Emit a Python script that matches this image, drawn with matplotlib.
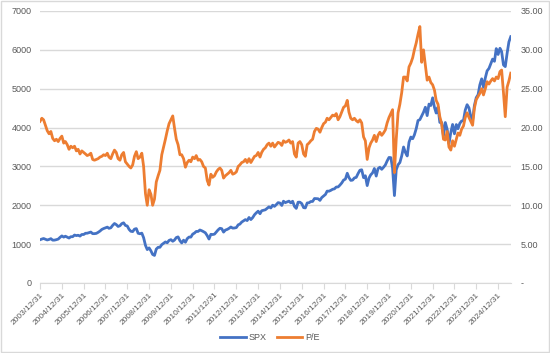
import pandas as pd
import matplotlib.pyplot as plt
import matplotlib.dates as mdates
from matplotlib.patches import Rectangle

plt.rcParams['font.family'] = ['Liberation Sans', 'DejaVu Sans']

# month-end dates, Dec 2003 .. Jul 2025
dates = pd.date_range('2003-12-31', '2025-07-31', freq='ME')

# S&P 500 month-end levels
spx = [
    1112,
    1131, 1145, 1126, 1107, 1121, 1141, 1102, 1104, 1115, 1130, 1174, 1212,
    1181, 1204, 1181, 1157, 1192, 1191, 1234, 1220, 1229, 1207, 1249, 1248,
    1280, 1281, 1295, 1311, 1270, 1270, 1277, 1304, 1336, 1378, 1401, 1418,
    1438, 1407, 1421, 1482, 1531, 1503, 1455, 1474, 1527, 1549, 1481, 1468,
    1379, 1331, 1323, 1386, 1400, 1280, 1267, 1283, 1166, 969, 860, 903,
    826, 735, 710, 873, 919, 919, 987, 1021, 1057, 1036, 1096, 1115,
    1074, 1104, 1169, 1187, 1089, 1031, 1102, 1049, 1141, 1183, 1181, 1258,
    1286, 1327, 1326, 1364, 1345, 1321, 1292, 1219, 1131, 1253, 1247, 1258,
    1312, 1366, 1408, 1398, 1310, 1362, 1379, 1407, 1441, 1412, 1416, 1426,
    1498, 1515, 1569, 1598, 1631, 1606, 1686, 1633, 1682, 1757, 1806, 1848,
    1783, 1859, 1872, 1884, 1924, 1960, 1931, 2003, 1972, 2018, 2068, 2059,
    1995, 2105, 2068, 2086, 2107, 2063, 2104, 1972, 1920, 2079, 2080, 2044,
    1940, 1932, 2060, 2065, 2097, 2099, 2174, 2171, 2168, 2126, 2199, 2239,
    2279, 2364, 2363, 2384, 2412, 2423, 2470, 2472, 2519, 2575, 2648, 2674,
    2824, 2714, 2641, 2648, 2705, 2718, 2816, 2902, 2914, 2712, 2760, 2507,
    2704, 2784, 2834, 2946, 2752, 2942, 2980, 2926, 2977, 3038, 3141, 3231,
    3226, 2954, 2250, 2912, 3044, 3100, 3271, 3500, 3363, 3270, 3622, 3756,
    3714, 3811, 3973, 4181, 4204, 4298, 4395, 4523, 4308, 4605, 4567, 4766,
    4516, 4374, 4530, 4132, 4132, 3785, 4130, 3955, 3586, 3872, 4080, 3840,
    4077, 3970, 4109, 4169, 4180, 4450, 4589, 4508, 4288, 4194, 4568, 4770,
    4846, 5096, 5254, 5036, 5278, 5460, 5522, 5648, 5762, 5705, 6032, 5882,
    6041, 5955, 5612, 5569, 5912, 6205, 6339,
]

# P/E ratio (right axis)
pe = [
    20.8,
    21.2, 21.0, 20.3, 19.6, 19.2, 19.5, 18.6, 18.3, 18.5, 18.2, 18.6, 18.9,
    18.0, 18.2, 17.8, 17.2, 17.6, 17.4, 17.6, 17.0, 17.2, 16.6, 17.0, 16.8,
    16.6, 16.4, 16.5, 16.7, 15.9, 15.8, 15.9, 16.0, 16.2, 16.3, 16.5, 16.4,
    16.7, 16.2, 16.0, 16.6, 17.1, 16.8, 16.0, 15.8, 16.5, 16.8, 15.6, 15.3,
    15.0, 14.8, 15.2, 16.3, 16.9, 16.0, 16.2, 16.7, 15.0, 11.5, 10.0, 12.0,
    11.4, 10.0, 10.8, 13.0, 13.8, 14.5, 16.5, 17.5, 18.5, 19.6, 20.5, 21.0,
    21.5, 20.0, 18.5, 17.8, 16.5, 16.5, 16.0, 14.9, 15.5, 15.8, 15.6, 16.2,
    16.0, 16.4, 15.8, 15.9, 15.6, 15.0, 14.8, 13.2, 12.6, 14.0, 13.6, 13.8,
    14.3, 14.6, 14.8, 14.5, 13.5, 13.8, 14.0, 14.2, 14.5, 14.0, 14.1, 14.3,
    15.0, 15.2, 15.5, 15.6, 15.9, 15.5, 16.0, 15.5, 15.9, 16.3, 16.4, 16.8,
    16.2, 16.8, 17.2, 17.4, 17.8, 18.0, 17.6, 18.0, 17.5, 17.8, 18.1, 18.0,
    17.7, 18.3, 18.1, 18.2, 18.4, 18.0, 18.2, 16.6, 16.2, 18.0, 18.2, 17.8,
    16.6, 16.3, 17.8, 18.0, 18.3, 18.5, 19.5, 19.9, 19.8, 19.4, 20.0, 20.5,
    20.7, 21.2, 21.0, 21.3, 21.6, 21.5, 21.8, 21.0, 21.4, 22.0, 22.6, 22.8,
    23.5, 22.0, 21.2, 21.0, 21.2, 20.9, 20.7, 21.0, 20.6, 18.8, 18.3, 15.9,
    17.4, 18.0, 18.4, 19.0, 18.2, 19.0, 19.4, 19.0, 19.3, 19.7, 20.6, 21.3,
    21.8, 22.3, 14.2, 18.5, 21.9, 23.0, 24.5, 26.5, 26.5, 26.0, 27.8, 28.3,
    29.0, 30.0, 30.9, 32.0, 33.0, 28.4, 30.0, 28.0, 26.1, 26.5, 25.8, 25.5,
    24.8, 23.5, 23.0, 21.4, 20.5, 18.5, 18.4, 19.5, 17.5, 17.1, 18.3, 17.6,
    18.5, 19.3, 19.0, 19.8, 20.2, 21.3, 21.9, 21.3, 20.8, 20.3, 22.5, 23.6,
    24.0, 24.4, 25.0, 24.2, 25.0, 25.9, 25.6, 26.0, 26.3, 26.0, 26.5, 26.3,
    27.2, 27.4, 24.5, 21.4, 25.2, 26.0, 27.0,
]

blue = '#4472C4'
orange = '#ED7D31'
grid_c = '#D9D9D9'
text_c = '#595959'

fig = plt.figure(figsize=(5.5, 3.53), dpi=100)
ax = fig.add_axes([40 / 550, 70 / 353, 471 / 550, 272 / 353])
ax2 = ax.twinx()

ax.plot(dates, spx, color=blue, lw=2.0, label='SPX')
ax2.plot(dates, pe, color=orange, lw=2.0, label='P/E')

ax.set_ylim(0, 7000)
ax.set_yticks(range(0, 7001, 1000))
ax2.set_ylim(0, 35)
ax2.set_yticks(range(0, 36, 5))
ax2.set_yticklabels(['-'] + [f'{v:.2f}' for v in range(5, 36, 5)])

ax.set_xlim(pd.Timestamp('2003-12-31'), pd.Timestamp('2025-08-04'))
ticks = pd.date_range('2003-12-31', '2024-12-31', freq='YE')
ax.set_xticks(ticks)
ax.xaxis.set_major_formatter(mdates.DateFormatter('%Y/%m/%d'))
for lbl in ax.get_xticklabels():
    lbl.set_rotation(45)
    lbl.set_ha('right')
    lbl.set_rotation_mode('anchor')

ax.grid(axis='y', color=grid_c, lw=1.0)
ax.set_axisbelow(True)
for a in (ax, ax2):
    for s in a.spines.values():
        s.set_visible(False)
ax.spines['bottom'].set_visible(True)
ax.spines['bottom'].set_color(grid_c)

ax.tick_params(axis='x', colors=grid_c, labelcolor=text_c, labelsize=6, length=4, pad=2)
ax.tick_params(axis='y', length=0, labelcolor=text_c, labelsize=6.5, pad=6)
ax2.tick_params(axis='y', length=0, labelcolor=text_c, labelsize=6.5, pad=7)

h1, l1 = ax.get_legend_handles_labels()
h2, l2 = ax2.get_legend_handles_labels()
fig.legend(h1 + h2, l1 + l2, loc='center', bbox_to_anchor=(270 / 550, 15 / 353),
           ncol=2, frameon=False, fontsize=6.5, labelcolor=text_c,
           handlelength=2.8, handletextpad=0.3, columnspacing=1.2)

# light chart-area border
fig.patches.append(Rectangle((0.002, 0.003), 0.996, 0.994, transform=fig.transFigure,
                             fill=False, edgecolor=grid_c, lw=1.0))

plt.savefig('out.png', dpi=100)
